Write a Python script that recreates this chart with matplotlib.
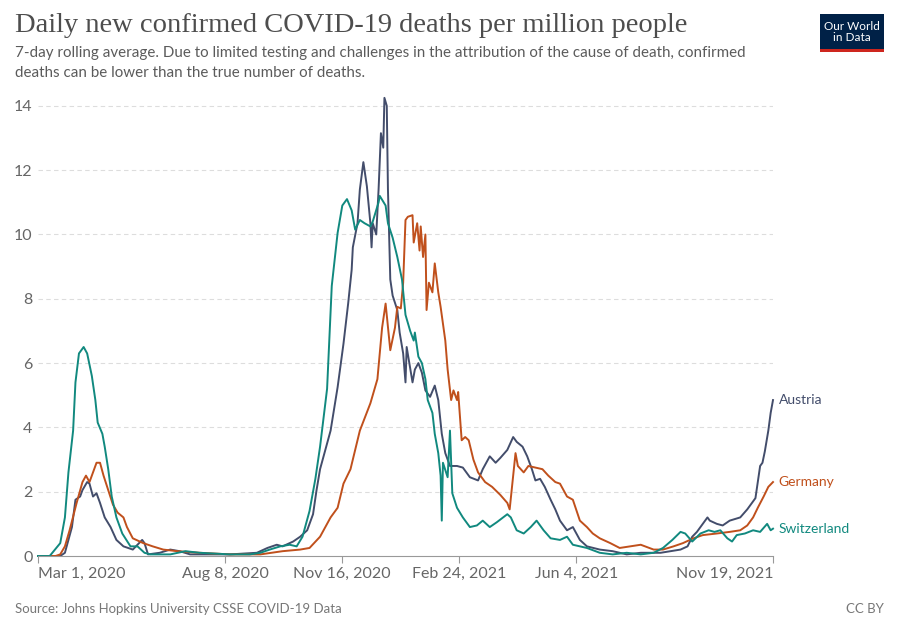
import pandas as pd
import matplotlib
matplotlib.use("Agg")
import matplotlib.pyplot as plt
from matplotlib.patches import Rectangle

plt.rcParams["font.family"] = ["Lato", "DejaVu Sans"]

# days counted from 2020-03-01
start = pd.Timestamp("2020-03-01")

austria_days = [0, 19, 23, 29, 32, 36, 38, 42, 44, 47, 50, 53, 57, 62, 67, 73, 81, 89, 91, 94,
                104, 113, 121, 130, 164, 187, 196, 204, 209, 218, 224, 230, 235, 238, 241, 250,
                256, 261, 265, 268, 269, 273, 275, 278, 279, 281, 284, 285, 286, 289, 291, 293,
                295, 296, 298, 299, 301, 303, 307, 309, 312, 314, 315, 320, 322, 325, 328, 331,
                335, 339, 342, 345, 348, 352, 358, 363, 369, 376, 380, 386, 391, 395, 401, 406,
                409, 414, 418, 422, 425, 429, 433, 438, 442, 446, 452, 457, 463, 469, 480, 491,
                503, 515, 532, 549, 555, 559, 563, 568, 572, 574, 580, 585, 591, 600, 606, 610,
                613, 615, 617, 619, 621, 624, 626, 628]
austria_vals = [0.0, 0.0, 0.1, 0.9, 1.75, 1.85, 2.05, 2.3, 2.25, 1.85, 1.95, 1.65, 1.2, 0.9, 0.5,
                0.3, 0.2, 0.5, 0.4, 0.05, 0.1, 0.2, 0.15, 0.05, 0.05, 0.1, 0.25, 0.35, 0.3, 0.45,
                0.6, 0.8, 1.3, 2.05, 2.7, 3.9, 5.25, 6.6, 7.85, 8.9, 9.6, 10.35, 11.4, 12.25, 12.0,
                11.5, 10.35, 9.6, 10.35, 10.0, 11.4, 13.15, 12.7, 14.25, 14.0, 11.4, 8.6, 8.1,
                7.65, 6.95, 6.3, 5.4, 6.5, 5.4, 5.8, 6.0, 5.7, 5.15, 4.95, 5.3, 4.85, 3.8, 3.2,
                2.8, 2.8, 2.75, 2.45, 2.35, 2.7, 3.1, 2.9, 3.05, 3.3, 3.7, 3.55, 3.4, 3.1, 2.7,
                2.35, 2.4, 2.15, 1.75, 1.45, 1.1, 0.8, 0.9, 0.5, 0.3, 0.2, 0.15, 0.05, 0.1, 0.1,
                0.2, 0.3, 0.6, 0.75, 1.0, 1.2, 1.1, 1.0, 0.95, 1.1, 1.2, 1.45, 1.65, 1.8, 2.3,
                2.8, 2.9, 3.25, 3.9, 4.45, 4.85]

germany_days = [0, 15, 19, 23, 27, 33, 38, 41, 44, 48, 50, 53, 56, 60, 64, 68, 73, 76, 81, 90,
                98, 107, 119, 138, 164, 190, 209, 224, 232, 241, 250, 256, 261, 267, 275, 284,
                290, 294, 297, 301, 305, 307, 310, 312, 314, 316, 320, 321, 324, 326, 327, 329,
                331, 332, 334, 337, 339, 342, 344, 348, 350, 353, 355, 358, 359, 362, 365, 368,
                372, 376, 382, 388, 395, 401, 403, 405, 408, 410, 415, 419, 425, 431, 436, 442,
                446, 452, 457, 463, 469, 474, 480, 489, 497, 506, 515, 526, 534, 543, 551, 560,
                568, 580, 591, 600, 606, 611, 615, 620, 624, 628]
germany_vals = [0.0, 0.0, 0.05, 0.3, 0.8, 1.65, 2.3, 2.5, 2.3, 2.7, 2.9, 2.9, 2.5, 2.05, 1.6,
                1.35, 1.2, 0.9, 0.55, 0.4, 0.3, 0.2, 0.15, 0.1, 0.05, 0.05, 0.15, 0.2, 0.25, 0.6,
                1.2, 1.5, 2.25, 2.7, 3.9, 4.75, 5.5, 7.1, 7.85, 6.4, 7.1, 7.75, 7.7, 8.5, 10.45,
                10.55, 10.6, 9.75, 10.35, 9.5, 10.25, 9.3, 10.0, 7.65, 8.5, 8.2, 9.1, 8.2, 7.75,
                6.7, 5.8, 4.85, 5.15, 4.85, 5.1, 3.6, 3.7, 3.6, 3.0, 2.6, 2.3, 2.15, 1.9, 1.65,
                1.45, 2.15, 3.2, 2.8, 2.6, 2.8, 2.75, 2.7, 2.5, 2.3, 2.25, 1.85, 1.75, 1.1, 0.9,
                0.7, 0.55, 0.4, 0.25, 0.3, 0.35, 0.2, 0.2, 0.3, 0.4, 0.55, 0.65, 0.7, 0.75, 0.8,
                0.95, 1.2, 1.5, 1.85, 2.15, 2.3]

swiss_days = [0, 10, 19, 23, 26, 30, 32, 35, 39, 42, 46, 49, 51, 55, 57, 60, 63, 67, 72, 79,
              85, 91, 96, 113, 126, 138, 164, 181, 190, 198, 207, 215, 221, 226, 232, 237, 241,
              247, 251, 256, 260, 264, 268, 271, 275, 279, 284, 286, 291, 292, 297, 299, 303,
              307, 311, 314, 318, 321, 322, 325, 328, 331, 333, 337, 339, 342, 344, 345, 346,
              350, 352, 354, 358, 363, 369, 375, 380, 386, 392, 401, 404, 409, 415, 421, 426,
              432, 438, 446, 452, 457, 469, 480, 491, 503, 515, 526, 534, 542, 549, 553, 559,
              566, 573, 578, 583, 589, 593, 597, 604, 611, 617, 623, 626, 628]
swiss_vals = [0.0, 0.0, 0.4, 1.2, 2.6, 3.9, 5.4, 6.3, 6.5, 6.3, 5.6, 4.85, 4.15, 3.8, 3.4, 2.7,
              1.85, 1.2, 0.7, 0.3, 0.3, 0.1, 0.05, 0.05, 0.15, 0.1, 0.05, 0.05, 0.1, 0.2, 0.3,
              0.35, 0.3, 0.6, 1.4, 2.4, 3.4, 5.2, 8.4, 10.05, 10.9, 11.1, 10.75, 10.15, 10.45,
              10.35, 10.25, 10.4, 11.0, 11.2, 10.9, 10.35, 9.9, 9.3, 8.6, 7.5, 7.0, 6.7, 6.95,
              6.2, 6.0, 5.5, 4.85, 4.45, 3.8, 3.2, 2.5, 1.1, 2.9, 2.45, 3.9, 1.95, 1.5, 1.2,
              0.9, 0.95, 1.1, 0.9, 1.05, 1.3, 1.2, 0.8, 0.7, 0.9, 1.1, 0.8, 0.55, 0.5, 0.6, 0.35,
              0.25, 0.1, 0.05, 0.1, 0.05, 0.1, 0.25, 0.5, 0.75, 0.7, 0.45, 0.7, 0.8, 0.75, 0.8,
              0.55, 0.45, 0.65, 0.7, 0.8, 0.75, 1.0, 0.8, 0.85]

tick_days = [0, 160, 260, 360, 460, 628]
tick_labels = ["Mar 1, 2020", "Aug 8, 2020", "Nov 16, 2020", "Feb 24, 2021", "Jun 4, 2021", "Nov 19, 2021"]

series = [
    ("Austria", austria_days, austria_vals, "#434d6b"),
    ("Germany", germany_days, germany_vals, "#c0501c"),
    ("Switzerland", swiss_days, swiss_vals, "#11897f"),
]

fig = plt.figure(figsize=(9, 6.35), dpi=100)
ax = fig.add_axes([38 / 900, 79 / 635, 735 / 900, 463 / 635])

for name, days, vals, color in series:
    dates = start + pd.to_timedelta(days, unit="D")
    ax.plot(dates, vals, color=color, lw=1.4, clip_on=False, solid_joinstyle="round")
    ax.annotate(name, (dates[-1], vals[-1]), xytext=(4, 0), textcoords="offset points",
                color=color, fontsize=10, va="center", ha="left", annotation_clip=False)

ax.set_xlim(start, start + pd.Timedelta(days=628))
ax.set_ylim(0, 14.4)
ax.set_yticks(range(0, 15, 2))
ax.yaxis.grid(True, color="#dddddd", linestyle=(0, (4, 3)), lw=0.8)
ax.set_axisbelow(True)

tick_dates = [start + pd.Timedelta(days=d) for d in tick_days]
ax.set_xticks(tick_dates)
ax.set_xticklabels(tick_labels)
labels = ax.get_xticklabels()
labels[0].set_ha("left")
labels[-1].set_ha("right")

for s in ["top", "right", "left"]:
    ax.spines[s].set_visible(False)
ax.spines["bottom"].set_color("#999999")
ax.tick_params(axis="x", colors="#999999", length=5, labelcolor="#666666", labelsize=11.5, pad=3)
ax.tick_params(axis="y", length=0, labelcolor="#666666", labelsize=11.5, pad=4)
# hide the 0 gridline under the axis line
ax.get_ygridlines()[0].set_visible(False)

fig.text(15 / 900, 1 - 26 / 635, "Daily new confirmed COVID-19 deaths per million people",
         family=["Liberation Serif"], fontsize=20.5, color="#4d4d4d", va="center")
fig.text(15 / 900, 1 - 53 / 635,
         "7-day rolling average. Due to limited testing and challenges in the attribution of the cause of death, confirmed",
         fontsize=10.9, color="#5b5b5b", va="center")
fig.text(15 / 900, 1 - 73 / 635, "deaths can be lower than the true number of deaths.",
         fontsize=10.9, color="#5b5b5b", va="center")
fig.text(15 / 900, 1 - 609 / 635, "Source: Johns Hopkins University CSSE COVID-19 Data",
         fontsize=9.5, color="#777777", va="center")
fig.text(884 / 900, 1 - 609 / 635, "CC BY", fontsize=9.5, color="#777777", va="center", ha="right")

# logo box
fig.patches.append(Rectangle((820 / 900, 1 - 52 / 635), 64 / 900, 38 / 635,
                             transform=fig.transFigure, facecolor="#002147", zorder=5))
fig.patches.append(Rectangle((820 / 900, 1 - 52 / 635), 64 / 900, 3 / 635,
                             transform=fig.transFigure, facecolor="#ce261e", zorder=6))
fig.text(852 / 900, 1 - 32 / 635, "Our World\nin Data", color="white", fontsize=8.5,
         ha="center", va="center", linespacing=1.0, zorder=7)

fig.savefig("out.png", dpi=100)
